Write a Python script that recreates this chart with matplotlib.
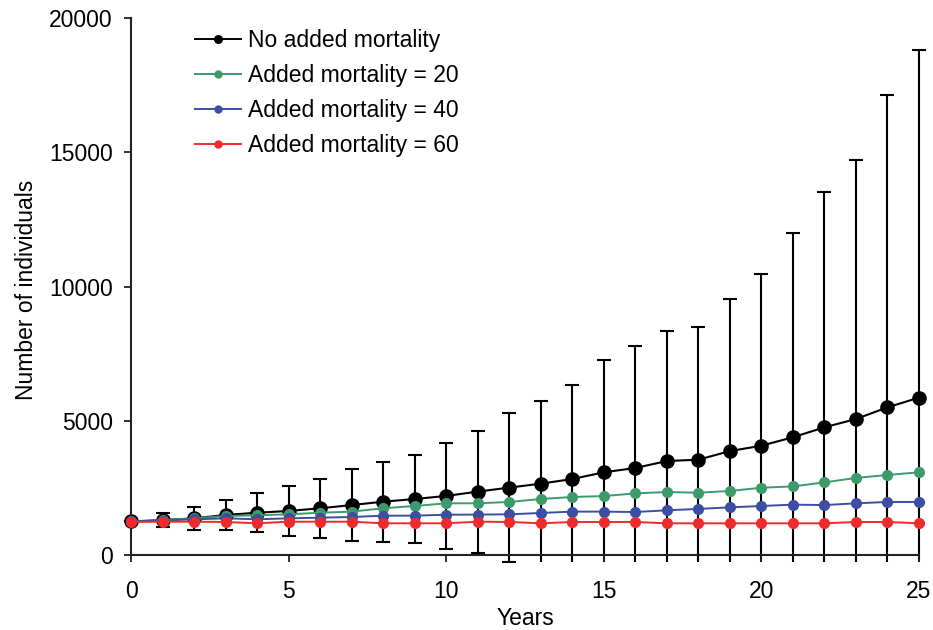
# population projections under different levels of added mortality

import matplotlib
matplotlib.use("Agg")
import matplotlib.pyplot as plt
from matplotlib.lines import Line2D
import numpy as np

plt.rcParams['font.family'] = ['Liberation Sans', 'DejaVu Sans']

years = list(range(26))

# mean number of individuals per year
no_mort = [1250, 1300, 1365, 1490, 1575, 1640, 1740, 1860, 1985, 2085, 2200,
           2360, 2510, 2656, 2830, 3080, 3240, 3500, 3550, 3870, 4070, 4385,
           4755, 5065, 5500, 5860]
# standard deviation for the no-added-mortality run
no_mort_sd = [0, 275, 423, 558, 734, 930, 1090, 1343, 1490, 1651, 1971, 2270,
              2765, 3080, 3490, 4180, 4545, 4845, 4950, 5650, 6395, 7620, 8750,
              9660, 11645, 12960]
mort_20 = [1250, 1300, 1365, 1450, 1480, 1515, 1575, 1615, 1740, 1825, 1925,
           1925, 1975, 2085, 2160, 2195, 2295, 2345, 2320, 2385, 2505, 2555,
           2705, 2870, 2980, 3080]
mort_40 = [1250, 1280, 1330, 1365, 1330, 1365, 1390, 1415, 1465, 1465, 1500,
           1505, 1515, 1565, 1615, 1615, 1600, 1665, 1715, 1775, 1825, 1875,
           1860, 1925, 1975, 1975]
mort_60 = [1230, 1240, 1240, 1230, 1180, 1240, 1240, 1240, 1180, 1180, 1180,
           1240, 1230, 1180, 1230, 1230, 1230, 1180, 1180, 1180, 1180, 1180,
           1180, 1230, 1230, 1180]

labels = ["No added mortality", "Added mortality = 20",
          "Added mortality = 40", "Added mortality = 60"]
colors = ["black", "#3d9a6b", "#3a4fa3", "#ee2b2b"]

fig = plt.figure(figsize=(9.33, 6.3), dpi=100)
ax = fig.add_axes([0.1269, 0.1084, 0.8716, 0.8630])

ax.errorbar(years, no_mort, yerr=no_mort_sd, fmt='none', ecolor='black',
            elinewidth=1.5, capsize=4.7, capthick=1.5, zorder=1)

ax.plot(years, no_mort, '-o', color=colors[0], lw=1.5, ms=9.5, zorder=2)
ax.plot(years, mort_20, '-o', color=colors[1], lw=1.4, ms=7, zorder=3)
ax.plot(years, mort_40, '-o', color=colors[2], lw=1.4, ms=7, zorder=4)
ax.plot(years, mort_60, '-o', color=colors[3], lw=1.4, ms=7, zorder=5)

ax.set_xlim(-0.4, 25.4)
ax.set_ylim(-250, 20000)
ax.set_xticks(range(0, 26, 5))
ax.set_yticks(range(0, 20001, 5000))

for s in ['top', 'right']:
    ax.spines[s].set_visible(False)
ax.spines['left'].set_position(('data', 0))
ax.spines['bottom'].set_position(('data', 0))
ax.spines['left'].set_bounds(0, 20000)
ax.spines['bottom'].set_bounds(0, 25)
for s in ['left', 'bottom']:
    ax.spines[s].set_linewidth(1.5)
    ax.spines[s].set_color('#222222')

ax.tick_params(axis='both', direction='out', length=5, width=1.3,
               color='#222222', labelsize=16.5)
ax.tick_params(axis='x', pad=13)
ax.tick_params(axis='y', pad=8)

ax.set_xlabel("Years", fontsize=16.5, labelpad=3)
ax.set_ylabel("Number of individuals", fontsize=16.5, labelpad=8)

handles = [Line2D([], [], color=colors[0], lw=1.4, marker='o', ms=5.5),
           Line2D([], [], color=colors[1], lw=1.4, marker='o', ms=5),
           Line2D([], [], color=colors[2], lw=1.4, marker='o', ms=5),
           Line2D([], [], color=colors[3], lw=1.4, marker='o', ms=5)]
ax.legend(handles, labels, loc='upper left', frameon=False, fontsize=16.5,
          bbox_to_anchor=(195 / 933, 1 - 29 / 630),
          bbox_transform=fig.transFigure, borderpad=0, borderaxespad=0,
          handlelength=2.0, handletextpad=0.3, labelspacing=0.52)

plt.savefig("out.png", dpi=100)
